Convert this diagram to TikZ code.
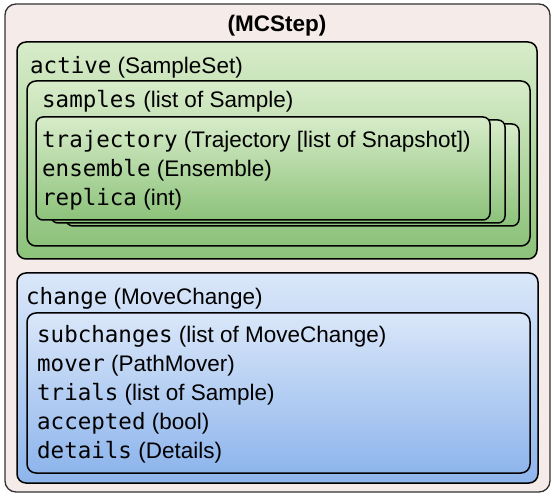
\documentclass[tikz,border=0pt]{standalone}
\usepackage{fontspec}
\setmainfont{Liberation Sans}
\setmonofont{DejaVu Sans Mono}

\definecolor{stepbg}{RGB}{245,235,232}
\definecolor{grntop}{RGB}{216,236,202}
\definecolor{grnbot}{RGB}{140,194,122}
\definecolor{blutop}{RGB}{218,231,249}
\definecolor{blubot}{RGB}{142,181,236}

\tikzset{
  stepbox/.style={draw=black!80, line width=1.3pt, rounded corners=11pt, fill=stepbg},
  greenbox/.style={draw=black, line width=1.5pt, rounded corners=9pt, top color=grntop, bottom color=grnbot},
  bluebox/.style={draw=black, line width=1.5pt, rounded corners=9pt, top color=blutop, bottom color=blubot},
  field/.style={anchor=base west, inner sep=0pt, font=\fontsize{22.5}{26}\selectfont}
}

\begin{document}
\begin{tikzpicture}[x=1pt,y=-1pt]
        \useasboundingbox (0,0) rectangle (555,497);

        % MCStep
        \draw[stepbox] (5,4) rectangle (550,492);
        \node[anchor=base, inner sep=0pt, font=\fontsize{22.5}{26}\selectfont\bfseries] (title) at (277,32) {(MCStep)};

        % active
        \draw[greenbox] (17,42) rectangle (537,259);
        \node[field] (active) at (30,74) {\texttt{active} (SampleSet)};

        \draw[greenbox] (27,81) rectangle (530,246);
        \node[field] (samples) at (42,108) {\texttt{samples} (list of Sample)};

        \draw[greenbox, rounded corners=7pt] (66,124) rectangle (519,226);
        \draw[greenbox, rounded corners=7pt] (51,120) rectangle (505,223);
        \draw[greenbox, rounded corners=7pt] (36,117) rectangle (490,220);
        \node[field] (trajectory) at (42,148) {\texttt{trajectory} (Trajectory [list of Snapshot])};
        \node[field] (ensemble) at (42,177) {\texttt{ensemble} (Ensemble)};
        \node[field] (replica) at (42,206) {\texttt{replica} (int)};

        % change
        \draw[bluebox] (17,273) rectangle (538,483);
        \node[field] (change) at (26,305) {\texttt{change} (MoveChange)};

        \draw[bluebox] (27,313) rectangle (530,473);
        \node[field] (subchanges) at (37,343) {\texttt{subchanges} (list of MoveChange)};
        \node[field] (mover) at (37,372) {\texttt{mover} (PathMover)};
        \node[field] (trials) at (37,401) {\texttt{trials} (list of Sample)};
        \node[field] (accepted) at (37,430) {\texttt{accepted} (bool)};
        \node[field] (details) at (37,459) {\texttt{details} (Details)};

    \end{tikzpicture}
\end{document}
